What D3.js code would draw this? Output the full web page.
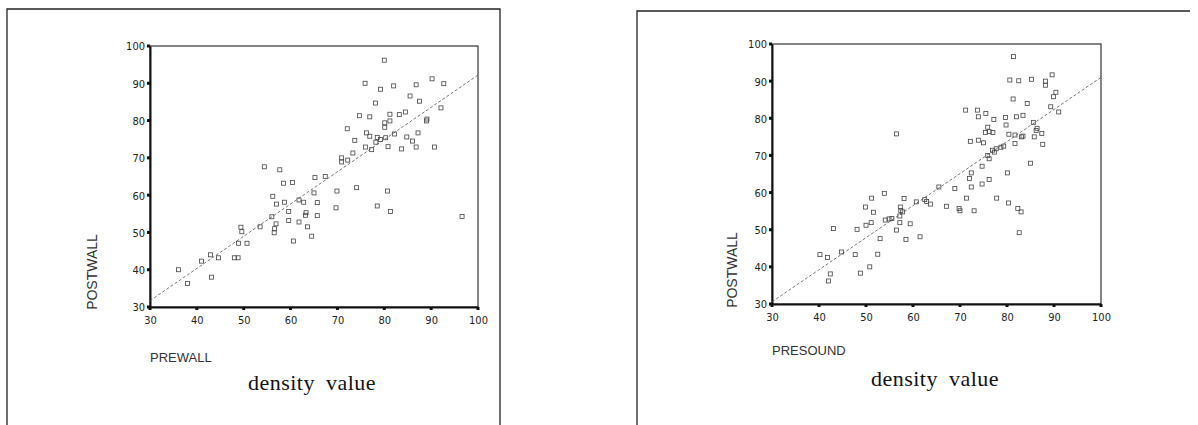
<!DOCTYPE html>
<html>
<head>
<meta charset="utf-8">
<script src="https://cdn.jsdelivr.net/npm/d3@7"></script>
<style>
  body { margin: 0; background: #fff; }
  .tick-lab { font-family: "Liberation Sans Narrow", "DejaVu Sans Condensed", Arial, sans-serif; font-size: 11px; fill: #222; }
  .var-lab { font-family: "Liberation Sans", Arial, sans-serif; font-size: 13px; fill: #333; }
  .post-lab { font-family: "Liberation Sans", Arial, sans-serif; font-size: 14px; fill: #333; }
  .title { font-family: "Liberation Serif", "DejaVu Serif", serif; font-size: 22px; fill: #111; letter-spacing: 0.5px; word-spacing: 5px; }
</style>
</head>
<body>
<svg width="1198" height="425"></svg>
<script>
// axis ticks shared by both scatterplots
const ticks = [30, 40, 50, 60, 70, 80, 90, 100];

// PREWALL vs POSTWALL
const prewallPoints = [
  [80,96.2],[75.9,90],[79.2,88.4],[82,89.3],[86.8,89.6],[90.2,91.2],[92.7,89.9],[85.5,86.6],[87.5,85.2],
  [78.1,84.7],[92.1,83.4],[74.7,81.3],[76.9,81],[81.2,81.7],[83.2,81.6],[84.5,82.3],[81.2,79.9],[80.1,79.4],
  [80.1,78.2],[89,79.9],[89.1,80.4],[72.1,77.8],[76.2,76.7],[76.9,75.8],[78.5,75.5],[79.2,74.9],[78.2,74.2],
  [80.3,75.4],[82.2,76.4],[84.8,75.6],[87.2,76.7],[86,74.5],[73.7,74.7],[76,72.9],[77.3,72.2],[80.8,73],
  [83.7,72.4],[86.8,72.9],[90.7,72.9],[73.3,71.3],[70.9,70],[70.9,68.9],[72.2,69.4],[54.4,67.6],[57.7,66.8],
  [65.2,64.7],[67.4,65],[58.5,63.2],[60.4,63.4],[74.1,62],[69.9,61.1],[80.7,61.1],[65,60.6],[56.2,59.7],
  [61.8,58.7],[62.8,58.1],[65.7,58],[57,57.6],[58.7,58.1],[78.5,57.1],[69.7,56.6],[59.6,55.6],[81.3,55.6],
  [63.3,55.3],[63.2,54.6],[65.7,54.5],[56,54.2],[96.6,54.3],[59.6,53.2],[61.8,52.8],[56.9,52.3],[56.6,51],
  [53.5,51.5],[49.4,51.4],[56.5,49.9],[49.6,50.2],[63.6,51.5],[64.5,49],[60.6,47.7],[48.9,47.1],[50.7,47.1],
  [42.9,44],[44.6,43.2],[48,43.2],[48.8,43.2],[41,42.3],[36.1,40],[43.1,38],[38,36.3]
];
const prewallFit = [[30, 31.7], [100, 92.2]];

// PRESOUND vs POSTWALL
const presoundPoints = [
  [81.4,96.6],[80.6,90.3],[82.5,90.1],[85.2,90.5],[88.2,90],[88.2,88.9],[89.6,91.7],[81.3,85.2],[84.3,84],
  [89.9,85.8],[90.4,87],[89.3,83.1],[91,81.7],[71.2,82.2],[73.7,82.2],[73.9,80.4],[75.5,81.3],[77.2,79.7],
  [79.7,80.2],[82,80.4],[83.4,80.8],[79.8,78.2],[85.6,78.9],[75.9,77.6],[76.2,76.4],[77,76.2],[75.4,76.2],
  [80.4,75.7],[81.7,75.5],[83.1,75],[83.4,75.2],[86.4,77.3],[86.2,76.7],[87.4,75.9],[85.8,75],[72.2,73.8],
  [73.9,74.1],[75,73.4],[81.7,73.2],[87.6,73],[79.3,72.5],[78.7,72.2],[76.9,71.4],[77.3,70.9],[77.7,71.8],
  [75.9,70],[76.2,69.1],[74.7,67.1],[85,67.9],[72.4,65.3],[72,63.8],[80.1,65.3],[76.2,63.5],[74.7,62.3],
  [72.4,61.5],[68.9,61.1],[65.5,61.5],[71.4,58.5],[77.8,58.5],[80.3,57.2],[82.3,55.7],[83,54.8],[73,55.1],
  [69.8,55.7],[70,55.1],[67.1,56.3],[63.7,56.9],[62.5,58.1],[62.9,57.6],[60.7,57.5],[53.9,59.8],[51.2,58.5],
  [58.1,58.4],[49.9,56.1],[51.6,54.7],[57.3,56.1],[57.4,55.2],[57.8,54.8],[54.1,52.6],[54.9,52.9],[55.5,53],
  [57.2,53.7],[57.2,51.9],[59.4,51.6],[51.1,51.9],[50,51.2],[48.1,50.1],[56.5,49.9],[43.1,50.3],[53,47.6],
  [58.5,47.4],[61.5,48.1],[44.8,44],[40.2,43.3],[41.8,42.5],[47.7,43.3],[52.5,43.4],[50.8,40],[42.4,38.1],
  [48.8,38.3],[42,36.2],[56.5,75.8],[82.6,49.2]
];
const presoundFit = [[30, 30.6], [100, 91.0]];

const svg = d3.select("svg");

function drawPanel(p) {
  const g = svg.append("g");
  const x = d3.scaleLinear().domain([30, 100]).range([p.x0, p.x1]);
  const y = d3.scaleLinear().domain([30, 100]).range([p.y1, p.y0]);

  // outer panel frame
  g.append("path")
    .attr("d", p.frame)
    .attr("fill", "none")
    .attr("stroke", "#222")
    .attr("stroke-width", 1.3);

  // plot box
  g.append("rect")
    .attr("x", p.x0).attr("y", p.y0)
    .attr("width", p.x1 - p.x0).attr("height", p.y1 - p.y0)
    .attr("fill", "none").attr("stroke", "#333").attr("stroke-width", 1.2);

  // left and bottom axes, heavier, with square tick marks
  const xAxis = d3.axisBottom(x).tickValues(ticks).tickSize(0).tickPadding(9);
  const yAxis = d3.axisLeft(y).tickValues(ticks).tickSize(0).tickPadding(5);
  const gx = g.append("g").attr("transform", `translate(0,${p.y1})`).call(xAxis);
  const gy = g.append("g").attr("transform", `translate(${p.x0},0)`).call(yAxis);
  [gx, gy].forEach(a => {
    a.select(".domain").attr("stroke", "#111").attr("stroke-width", 2);
    a.selectAll("text").attr("class", "tick-lab").attr("font-family", null).attr("font-size", null);
  });
  gy.selectAll("text").attr("dy", "0.36em");

  g.selectAll(".xt").data(ticks).enter().append("rect")
    .attr("x", d => x(d) - 1.5).attr("y", p.y1).attr("width", 3).attr("height", 3).attr("fill", "#111");
  g.selectAll(".yt").data(ticks).enter().append("rect")
    .attr("x", p.x0 - 3).attr("y", d => y(d) - 1.5).attr("width", 3).attr("height", 3).attr("fill", "#111");

  // regression line
  g.append("line")
    .attr("x1", x(p.fit[0][0])).attr("y1", y(p.fit[0][1]))
    .attr("x2", x(p.fit[1][0])).attr("y2", y(p.fit[1][1]))
    .attr("stroke", "#555").attr("stroke-width", 0.8).attr("stroke-dasharray", "3,2");

  // points
  g.selectAll(".pt").data(p.points).enter().append("rect")
    .attr("x", d => x(d[0]) - 2).attr("y", d => y(d[1]) - 2)
    .attr("width", 4).attr("height", 4)
    .attr("fill", "none").attr("stroke", "#444").attr("stroke-width", 0.8);

  // labels
  g.append("text").attr("class", "post-lab")
    .attr("transform", `translate(${p.ylabX},${p.ylabY}) rotate(-90)`)
    .attr("text-anchor", "middle").text("POSTWALL");
  g.append("text").attr("class", "var-lab")
    .attr("x", p.x0).attr("y", p.xlabY).text(p.xlab);
  g.append("text").attr("class", "title")
    .attr("x", p.titleX).attr("y", p.titleY).attr("text-anchor", "middle").text("density value");
}

drawPanel({
  x0: 150, x1: 478, y0: 46, y1: 307,
  frame: "M7,425 V9 H500 V425",
  points: prewallPoints, fit: prewallFit,
  ylabX: 97, ylabY: 272, xlab: "PREWALL", xlabY: 362,
  titleX: 312, titleY: 390
});

drawPanel({
  x0: 772, x1: 1101, y0: 44, y1: 304,
  frame: "M637,425 V11 H1190",
  points: presoundPoints, fit: presoundFit,
  ylabX: 737, ylabY: 270, xlab: "PRESOUND", xlabY: 355,
  titleX: 935, titleY: 386
});
</script>
</body>
</html>
